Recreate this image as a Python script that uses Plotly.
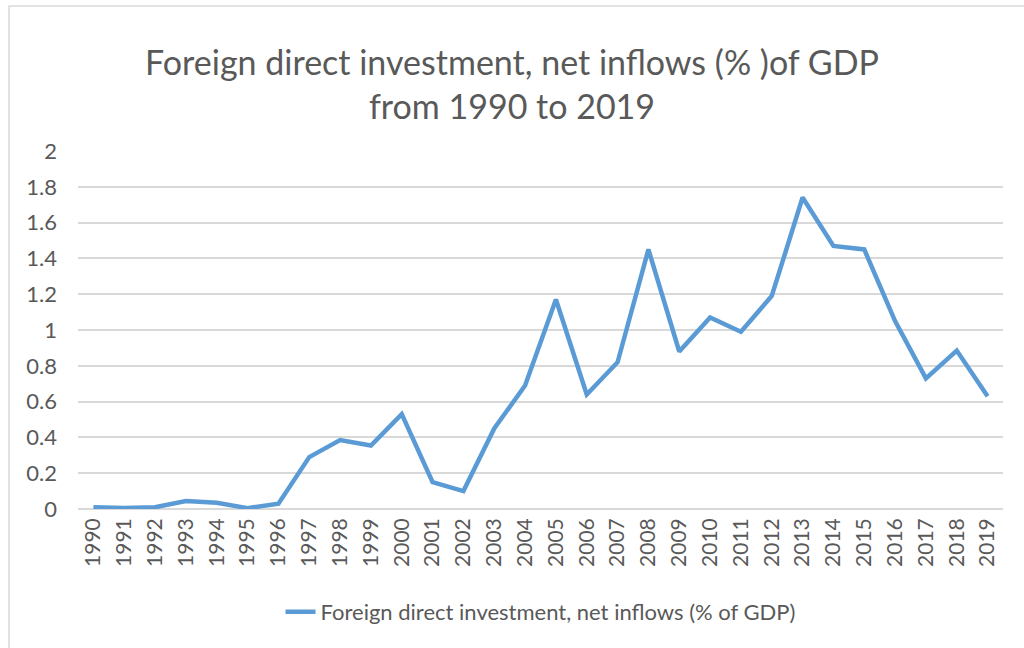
import plotly.graph_objects as go

# FDI net inflows (% of GDP)
years = [str(y) for y in range(1990, 2020)]
fdi = [0.01, 0.005, 0.01, 0.045, 0.035, 0.005, 0.03, 0.29, 0.385, 0.355,
       0.53, 0.15, 0.10, 0.45, 0.69, 1.17, 0.64, 0.82, 1.45, 0.88,
       1.07, 0.99, 1.19, 1.74, 1.47, 1.45, 1.05, 0.73, 0.885, 0.63]
y_ticks = [0, 0.2, 0.4, 0.6, 0.8, 1, 1.2, 1.4, 1.6, 1.8, 2]
y_labels = ["0", "0.2", "0.4", "0.6", "0.8", "1", "1.2", "1.4", "1.6", "1.8", "2"]

series_name = "Foreign direct investment, net inflows (% of GDP)"
grey = "#595959"
font = "Lato, Open Sans, sans-serif"

fig = go.Figure()
fig.add_trace(go.Scatter(
    x=years, y=fdi, mode="lines", name=series_name,
    line=dict(color="#5B9BD5", width=4.5),
))

W, H = 1024, 648
L, R, T, B = 78, 21, 151, 139
pw, ph = W - L - R, H - T - B

fig.update_layout(
    width=W, height=H,
    margin=dict(l=L, r=R, t=T, b=B, autoexpand=False),
    paper_bgcolor="white", plot_bgcolor="white",
    font=dict(family=font, color=grey),
    title=dict(
        text="Foreign direct investment, net inflows (% )of GDP<br>from 1990 to 2019",
        x=0.5, xanchor="center", y=1 - 75 / H, yanchor="middle",
        font=dict(size=34, color=grey, family=font),
    ),
    showlegend=True,
    legend=dict(
        orientation="h", x=0.5, xanchor="center",
        y=-(612 - 509) / ph, yanchor="middle",
        font=dict(size=22, color=grey, family=font),
    ),
    xaxis=dict(
        type="category", range=[-0.5, 29.5], automargin=False,
        tickangle=-90, tickfont=dict(size=21, color=grey),
        showgrid=False, showline=False, ticks="", ticklabelstandoff=4,
    ),
    yaxis=dict(
        range=[0, 2], tickvals=y_ticks, ticktext=y_labels, automargin=False,
        tickfont=dict(size=22, color=grey),
        showgrid=True, gridcolor="#D9D9D9", gridwidth=1.5,
        zeroline=True, zerolinecolor="#D9D9D9", zerolinewidth=1.5,
        showline=False, ticks="", ticklabelstandoff=20,
    ),
)

# light chart frame (only left and top edges fall inside the picture)
fig.add_shape(
    type="rect", xref="paper", yref="paper",
    x0=(9 - L) / pw, x1=(1040 - L) / pw,
    y0=-(670 - (H - B)) / ph, y1=1 + (T - 6) / ph,
    line=dict(color="#D9D9D9", width=1.5), layer="below",
)

# drop the page's default body margin so the figure sits at the window corner
fig.write_html("out.html", config={"displayModeBar": False},
               post_script="document.body.style.margin='0';")
